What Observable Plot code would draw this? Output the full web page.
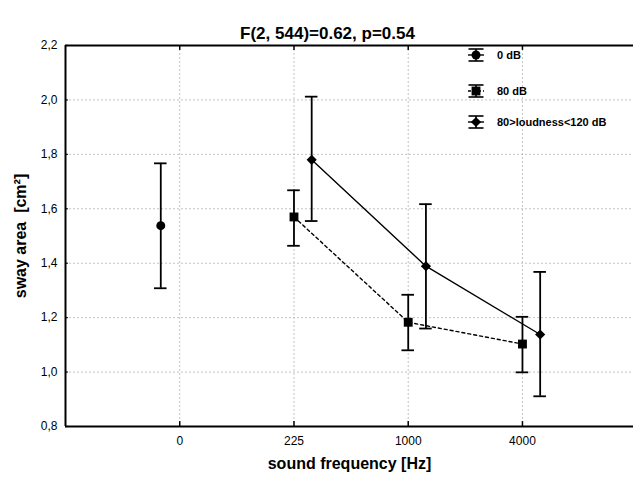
<!DOCTYPE html>
<html><head><meta charset="utf-8">
<script src="https://cdn.jsdelivr.net/npm/d3@7"></script>
<script src="https://cdn.jsdelivr.net/npm/@observablehq/plot@0.6"></script>
<style>
body{margin:0;background:#fff;overflow:hidden;}
#chart{position:relative;width:633px;height:477px;overflow:hidden;}
</style></head><body><div id="chart"></div>
<script>
// ---- data ----
const freqLabels = ["0", "225", "1000", "4000"];
const yTicks = [0.8, 1.0, 1.2, 1.4, 1.6, 1.8, 2.0, 2.2];
const seriesNames = ["0 dB", "80 dB", "80>loudness<120 dB"];

const dB0Freq = [0];
const dB0Mean = [1.538];
const dB0Low = [1.308];
const dB0High = [1.767];

const dB80Freq = [1, 2, 3];
const dB80Mean = [1.570, 1.183, 1.103];
const dB80Low = [1.464, 1.080, 0.999];
const dB80High = [1.668, 1.284, 1.203];

const dBLoudFreq = [1, 2, 3];
const dBLoudMean = [1.780, 1.389, 1.138];
const dBLoudLow = [1.555, 1.160, 0.911];
const dBLoudHigh = [2.012, 1.617, 1.368];

const title = "F(2, 544)=0.62, p=0.54";
const xTitle = "sound frequency [Hz]";
const yTitle = "sway area  [cm\u00B2]";

// ---- build table ----
const seriesOffset = {"0 dB": -0.166, "80 dB": 0, "80>loudness<120 dB": 0.155};
function build(name, f, m, lo, hi) {
  return f.map((fi, i) => ({series: name, x: fi + seriesOffset[name], mean: m[i], lo: lo[i], hi: hi[i]}));
}
const rows0 = build(seriesNames[0], dB0Freq, dB0Mean, dB0Low, dB0High);
const rows80 = build(seriesNames[1], dB80Freq, dB80Mean, dB80Low, dB80High);
const rowsLoud = build(seriesNames[2], dBLoudFreq, dBLoudMean, dBLoudLow, dBLoudHigh);
const all = [...rows0, ...rows80, ...rowsLoud];

const capHalf = 0.055;
const fmt = v => d3.format(".1f")(v).replace(".", ",");
const gridStyle = {stroke: "#c2c2c2", strokeWidth: 1, strokeDasharray: "2,2"};

// the plot area continues past the right edge of the picture (cropped)
const plot = Plot.plot({
  width: 645,
  height: 477,
  marginLeft: 65,
  marginRight: 0,
  marginTop: 45,
  marginBottom: 51,
  style: {fontFamily: "'Liberation Sans', Arial, sans-serif", fontSize: "12px", color: "black", background: "white", maxWidth: "none"},
  x: {domain: [-1, 4.077]},
  y: {domain: [0.8, 2.2]},
  marks: [
    Plot.ruleY(yTicks.slice(1, -1), gridStyle),
    Plot.ruleX([0, 1, 2, 3], gridStyle),
    // inner ticks
    Plot.ruleX([0, 1, 2, 3], {y1: 0.8, y2: 0.818, stroke: "black", strokeWidth: 1.5}),
    Plot.ruleX([0, 1, 2, 3], {y1: 2.182, y2: 2.2, stroke: "black", strokeWidth: 1.5}),
    Plot.ruleY(yTicks, {x1: -1, x2: -0.975, stroke: "black", strokeWidth: 1.2}),
    // frame
    Plot.ruleY([0.8, 2.2], {stroke: "black", strokeWidth: 2}),
    Plot.ruleX([-1], {stroke: "black", strokeWidth: 2}),
    // lines
    Plot.line(rows80, {x: "x", y: "mean", stroke: "black", strokeWidth: 1.4, strokeDasharray: "3,3"}),
    Plot.line(rowsLoud, {x: "x", y: "mean", stroke: "black", strokeWidth: 1.4}),
    // error bars
    Plot.ruleX(all, {x: "x", y1: "lo", y2: "hi", stroke: "black", strokeWidth: 1.8}),
    Plot.ruleY(all, {y: "lo", x1: d => d.x - capHalf, x2: d => d.x + capHalf, stroke: "black", strokeWidth: 1.8}),
    Plot.ruleY(all, {y: "hi", x1: d => d.x - capHalf, x2: d => d.x + capHalf, stroke: "black", strokeWidth: 1.8}),
    // markers
    Plot.dot(rows0, {x: "x", y: "mean", symbol: "circle", r: 4.5, fill: "black", stroke: "none"}),
    Plot.dot(rows80, {x: "x", y: "mean", symbol: "square", r: 5, fill: "black", stroke: "none"}),
    Plot.dot(rowsLoud, {x: "x", y: "mean", symbol: "diamond2", r: 4.6, fill: "black", stroke: "none"}),
    // axes
    Plot.axisX({ticks: [0, 1, 2, 3], tickFormat: i => freqLabels[i], tickSize: 0, tickPadding: 10, label: null, fontSize: 12}),
    Plot.axisY({ticks: yTicks, tickFormat: fmt, tickSize: 0, tickPadding: 8, label: null, fontSize: 12}),
    // titles
    Plot.text([title], {text: d => d, frameAnchor: "top-left", dx: 262, dy: -19, fontWeight: "bold", fontSize: 17, textAnchor: "middle"}),
    Plot.text([xTitle], {text: d => d, frameAnchor: "bottom-left", dx: 284, dy: 42, fontWeight: "bold", fontSize: 16, textAnchor: "middle"}),
    Plot.text([yTitle], {text: d => d, frameAnchor: "left", dx: -45, rotate: -90, fontWeight: "bold", fontSize: 16, textAnchor: "middle"})
  ]
});

// ---- legend (upper right, inside plot) ----
const svg = d3.select(plot);
const legY = [55, 91, 122];
const legSym = [d3.symbolCircle, d3.symbolSquare, d3.symbolDiamond2];
const legSize = [Math.PI * 4.5 * 4.5, Math.PI * 25, Math.PI * 4.6 * 4.6];
const legDash = [null, "3,2", null];
const cx = 476;
const g = svg.append("g").attr("stroke", "black");
seriesNames.forEach((name, i) => {
  const y = legY[i];
  const row = g.append("g");
  row.append("line").attr("x1", cx).attr("x2", cx).attr("y1", y - 6).attr("y2", y + 6).attr("stroke-width", 1.6);
  row.append("line").attr("x1", cx - 7.5).attr("x2", cx + 7.5).attr("y1", y - 6).attr("y2", y - 6).attr("stroke-width", 1.6);
  row.append("line").attr("x1", cx - 7.5).attr("x2", cx + 7.5).attr("y1", y + 6).attr("y2", y + 6).attr("stroke-width", 1.6);
  row.append("line").attr("x1", cx - 8).attr("x2", cx + 8).attr("y1", y).attr("y2", y).attr("stroke-width", 1.4)
     .attr("stroke-dasharray", legDash[i]);
  row.append("path").attr("d", d3.symbol(legSym[i], legSize[i])()).attr("transform", `translate(${cx},${y})`)
     .attr("fill", "black").attr("stroke", "none");
  row.append("text").attr("x", 497).attr("y", y + 4).attr("stroke", "none").attr("fill", "black")
     .attr("text-anchor", "start").attr("font-weight", "bold").attr("font-size", 11).text(name);
});

document.getElementById("chart").appendChild(plot);
</script>
</body></html>
